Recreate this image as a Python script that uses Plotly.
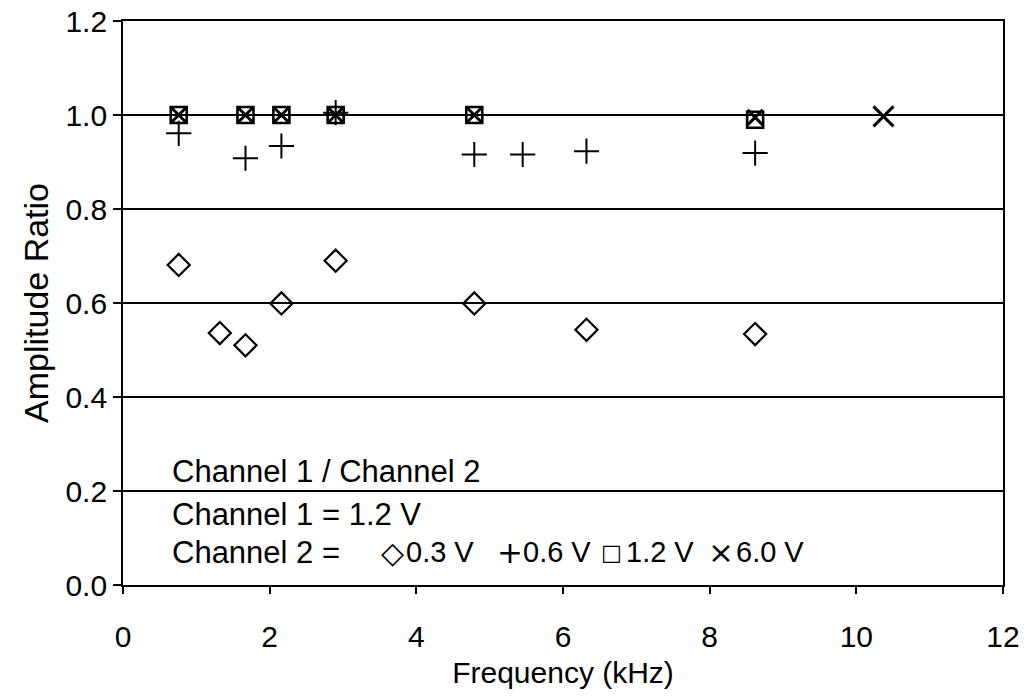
import plotly.graph_objects as go

# Channel 2 = 0.3 V (diamonds)
x_03 = [0.76, 1.32, 1.67, 2.16, 2.90, 4.79, 6.32, 8.62]
y_03 = [0.681, 0.536, 0.510, 0.599, 0.690, 0.599, 0.543, 0.534]
# Channel 2 = 0.6 V (plus)
x_06 = [0.76, 1.67, 2.16, 2.90, 4.79, 5.45, 6.32, 8.62]
y_06 = [0.961, 0.908, 0.934, 1.005, 0.916, 0.916, 0.923, 0.919]
# Channel 2 = 1.2 V (squares)
x_12 = [0.76, 1.67, 2.16, 2.90, 4.79, 8.62]
y_12 = [1.0, 1.0, 1.0, 1.0, 1.0, 0.99]
# Channel 2 = 6.0 V (x)
x_60 = [0.76, 1.67, 2.16, 2.90, 4.79, 8.62, 10.37]
y_60 = [1.0, 1.0, 1.0, 1.0, 1.0, 0.995, 0.997]

x_ticks = [0, 2, 4, 6, 8, 10, 12]
y_ticks = [0.0, 0.2, 0.4, 0.6, 0.8, 1.0, 1.2]

legend_labels = ["0.3 V", "0.6 V", "1.2 V", "6.0 V"]
legend_symbols = ["\u25C7", "+", "\u25A1", "\u00D7"]

FONT = "Liberation Sans, Arial, Helvetica, sans-serif"
W, H = 1026, 696
L, R, T, B = 123, 23, 21, 111
PW = W - L - R
PH = H - T - B


def px_x(p):
    return (p - L) / PW


def px_y(p):
    return 1 - (p - T) / PH


# x markers drawn inside squares are smaller; a lone x is drawn larger
x60_sizes = [15 if xv in x_12 else 20 for xv in x_60]

fig = go.Figure()
fig.add_trace(go.Scatter(x=x_03, y=y_03, mode="markers", name="0.3 V",
                         marker=dict(symbol="diamond-open", size=17, color="black",
                                     line=dict(width=2.2, color="black"))))
fig.add_trace(go.Scatter(x=x_06, y=y_06, mode="markers", name="0.6 V",
                         marker=dict(symbol="cross-thin", size=18, color="black",
                                     line=dict(width=2, color="black"))))
fig.add_trace(go.Scatter(x=x_12, y=y_12, mode="markers", name="1.2 V",
                         marker=dict(symbol="square-open", size=16, color="black",
                                     line=dict(width=2.6, color="black"))))
fig.add_trace(go.Scatter(x=x_60, y=y_60, mode="markers", name="6.0 V",
                         marker=dict(symbol="x-thin", size=x60_sizes, color="black",
                                     opacity=1,
                                     line=dict(width=3, color="black"))))

ann_font = dict(family=FONT, size=31, color="black")
lab_font = dict(family=FONT, size=29, color="black")
text_lines = [("Channel 1 / Channel 2", 471), ("Channel 1 = 1.2 V", 514), ("Channel 2 =", 552)]
for txt, yp in text_lines:
    fig.add_annotation(x=px_x(170), y=px_y(yp), xref="paper", yref="paper", text=txt,
                       showarrow=False, xanchor="left", yanchor="middle", font=ann_font)

sym_centers = [392, 510, 611, 721]
label_starts = [404, 521, 624, 734]
sym_sizes = [30, 31, 22, 31]
for sym, lab, sc, ls, ss in zip(legend_symbols, legend_labels, sym_centers, label_starts, sym_sizes):
    fig.add_annotation(x=px_x(sc), y=px_y(552), xref="paper", yref="paper", text=sym,
                       showarrow=False, xanchor="center", yanchor="middle",
                       font=dict(family="DejaVu Sans, " + FONT, size=ss, color="black"))
    fig.add_annotation(x=px_x(ls), y=px_y(552), xref="paper", yref="paper", text=lab,
                       showarrow=False, xanchor="left", yanchor="middle", font=lab_font)

fig.update_layout(
    width=W, height=H,
    margin=dict(l=L, r=R, t=T, b=B),
    paper_bgcolor="white", plot_bgcolor="white",
    showlegend=False,
    font=dict(family=FONT, size=30, color="black"),
    xaxis=dict(range=[0, 12], tickvals=x_ticks, ticktext=[str(v) for v in x_ticks],
               automargin=False,
               showgrid=False, zeroline=False, showline=True, linecolor="black",
               linewidth=1.8, mirror=True, ticks="outside", ticklen=7, tickwidth=1.5,
               tickcolor="black", tickfont=dict(size=30), ticklabelstandoff=17,
               title=dict(text="Frequency (kHz)", font=dict(size=30), standoff=10)),
    yaxis=dict(range=[0, 1.2], tickvals=y_ticks, ticktext=[f"{v:.1f}" for v in y_ticks],
               automargin=False,
               showgrid=True, gridcolor="black", gridwidth=1.8, zeroline=False,
               showline=True, linecolor="black", linewidth=1.8, mirror=True,
               ticks="outside", ticklen=8, tickwidth=1.5, tickcolor="black",
               tickfont=dict(size=30), ticklabelstandoff=0,
               title=dict(text="Amplitude Ratio", font=dict(size=34), standoff=6)),
)

fig.write_html("out.html")
